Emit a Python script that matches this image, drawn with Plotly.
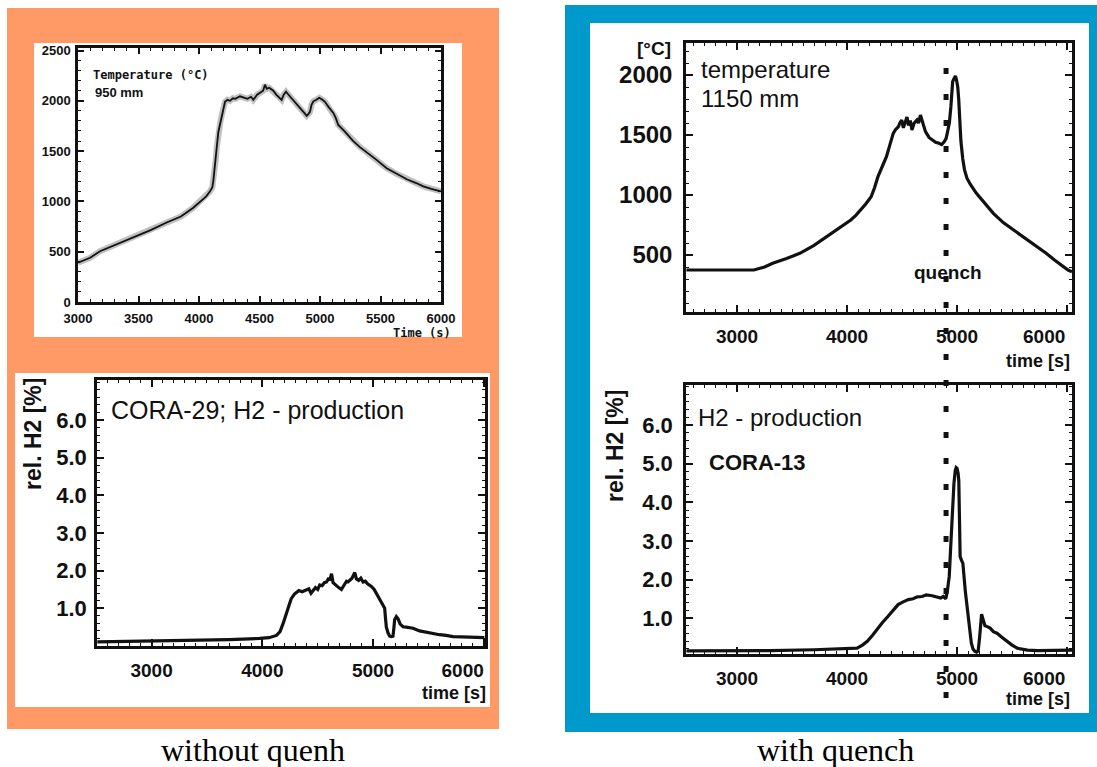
import plotly.graph_objects as go

W, H = 1097, 767

# ---------------- data ----------------
# CORA-29, temperature at 950 mm (no quench)
tl_time = [3000, 3100, 3182, 3300, 3457, 3600, 3733, 3850, 3950, 4008, 4060, 4091, 4110, 4118, 4125, 4132,
           4140, 4146, 4160, 4175, 4188, 4200, 4215, 4235, 4256, 4280, 4300, 4339, 4370, 4400, 4430, 4449,
           4480, 4510, 4530, 4545, 4560, 4580, 4614, 4640, 4660, 4683, 4700, 4719, 4740, 4760, 4779, 4800,
           4825, 4848, 4870, 4890, 4905, 4917, 4930, 4945, 4970, 4994, 5020, 5041, 5070, 5090, 5110, 5130,
           5151, 5200, 5275, 5330, 5386, 5470, 5551, 5640, 5717, 5790, 5854, 5920, 5992, 6000]
tl_temp = [390, 440, 505, 565, 640, 715, 790, 850, 935, 1000, 1050, 1100, 1140, 1200, 1270, 1330,
           1430, 1530, 1690, 1780, 1860, 1930, 1990, 2010, 2000, 2025, 2020, 2045, 2030, 2020, 2040, 2010,
           2060, 2080, 2100, 2160, 2120, 2130, 2100, 2060, 2040, 2010, 2060, 2090, 2060, 2030, 2005, 1980,
           1940, 1910, 1880, 1850, 1870, 1890, 1960, 1995, 2010, 2030, 2010, 1990, 1940, 1910, 1880, 1830,
           1760, 1700, 1600, 1540, 1490, 1410, 1330, 1270, 1220, 1185, 1150, 1125, 1100, 1100]

# CORA-29, relative H2 production
bl_time = [2510, 2800, 3100, 3436, 3700, 3977, 4060, 4128, 4160, 4188, 4210, 4233, 4260, 4290, 4308, 4330,
           4360, 4398, 4420, 4440, 4459, 4480, 4500, 4519, 4540, 4560, 4580, 4600, 4609, 4625, 4639, 4660,
           4690, 4714, 4740, 4760, 4774, 4790, 4810, 4835, 4850, 4870, 4890, 4910, 4930, 4950, 4970, 4985,
           5010, 5040, 5060, 5085, 5105, 5112, 5120, 5135, 5150, 5165, 5180, 5187, 5195, 5210, 5226, 5245,
           5271, 5300, 5361, 5420, 5480, 5541, 5600, 5660, 5722, 5800, 5880, 5977, 6005]
bl_h2 = [0.11, 0.12, 0.13, 0.15, 0.17, 0.20, 0.22, 0.28, 0.38, 0.60, 0.82, 1.04, 1.25, 1.38, 1.42, 1.47,
         1.44, 1.49, 1.52, 1.40, 1.47, 1.55, 1.50, 1.62, 1.60, 1.68, 1.70, 1.80, 1.74, 1.92, 1.68, 1.62,
         1.55, 1.50, 1.62, 1.72, 1.70, 1.75, 1.80, 1.95, 1.78, 1.74, 1.80, 1.70, 1.72, 1.65, 1.62, 1.58,
         1.50, 1.35, 1.22, 1.10, 1.00, 0.75, 0.50, 0.35, 0.26, 0.25, 0.26, 0.45, 0.70, 0.78, 0.72, 0.58,
         0.51, 0.50, 0.47, 0.40, 0.36, 0.34, 0.30, 0.28, 0.25, 0.24, 0.23, 0.22, 0.22]

# CORA-13, temperature at 1150 mm (with quench)
tr_time = [2540, 2800, 3000, 3154, 3250, 3324, 3450, 3571, 3700, 3818, 3930, 4034, 4080, 4127, 4170, 4219,
           4250, 4281, 4320, 4358, 4390, 4420, 4440, 4466, 4480, 4497, 4512, 4528, 4545, 4559, 4575, 4590,
           4610, 4636, 4650, 4667, 4690, 4713, 4745, 4775, 4805, 4836, 4860, 4883, 4900, 4914, 4930, 4944,
           4952, 4960, 4972, 4985, 4995, 5006, 5015, 5022, 5035, 5052, 5068, 5090, 5120, 5176, 5250, 5330,
           5420, 5515, 5620, 5731, 5810, 5886, 5950, 6009, 6045]
tr_temp = [375, 375, 375, 375, 400, 431, 470, 514, 580, 653, 720, 792, 830, 875, 925, 986,
           1060, 1153, 1240, 1319, 1420, 1514, 1545, 1569, 1600, 1625, 1560, 1600, 1650, 1580, 1620, 1542,
           1600, 1625, 1600, 1667, 1600, 1528, 1480, 1458, 1440, 1431, 1420, 1444, 1470, 1528, 1600, 1736,
           1850, 1944, 1970, 1992, 1960, 1903, 1800, 1653, 1450, 1300, 1210, 1140, 1090, 1014, 930, 847,
           770, 708, 640, 569, 515, 458, 415, 375, 360]

# CORA-13, relative H2 production
br_time = [2540, 2900, 3300, 3700, 4091, 4140, 4184, 4230, 4277, 4320, 4371, 4420, 4464, 4510, 4557, 4600,
           4640, 4681, 4720, 4774, 4810, 4851, 4875, 4898, 4913, 4929, 4945, 4960, 4972, 4984, 4992, 5000,
           5010, 5016, 5022, 5028, 5040, 5053, 5075, 5099, 5115, 5130, 5145, 5161, 5178, 5192, 5205, 5214,
           5223, 5238, 5254, 5275, 5301, 5330, 5363, 5410, 5456, 5500, 5549, 5640, 5735, 5850, 5983, 6045]
br_h2 = [0.15, 0.15, 0.16, 0.18, 0.22, 0.30, 0.40, 0.55, 0.74, 0.88, 1.04, 1.20, 1.35, 1.42, 1.48, 1.50,
         1.55, 1.56, 1.60, 1.58, 1.55, 1.52, 1.56, 1.50, 1.73, 2.08, 3.00, 3.97, 4.50, 4.83, 4.90, 4.88,
         4.75, 4.55, 3.80, 2.60, 2.50, 2.42, 1.70, 1.04, 0.65, 0.35, 0.20, 0.14, 0.12, 0.15, 0.50, 0.87,
         1.10, 0.95, 0.80, 0.78, 0.74, 0.65, 0.61, 0.50, 0.40, 0.30, 0.22, 0.17, 0.16, 0.16, 0.17, 0.17]

quench_time = 4900

tl_xticks = [3000, 3500, 4000, 4500, 5000, 5500, 6000]
tl_yticks = [0, 500, 1000, 1500, 2000, 2500]
h2_xticks = [3000, 4000, 5000, 6000]
h2_xticktext = ["3000", "4000", "5000", "6000"]
h2_yticks = [1.0, 2.0, 3.0, 4.0, 5.0, 6.0]
h2_yticktext = ["1.0", "2.0", "3.0", "4.0", "5.0", "6.0"]
tr_yticks = [500, 1000, 1500, 2000]

captions = ["without quenh", "with quench"]

# ---------------- helpers ----------------
def px(x):
    return x / W


def py(y):
    return 1 - y / H


ORANGE = "#FF9966"
BLUE = "#0099CC"
INK = "#111111"
NB = "\u00a0"

# the last tick label of the H2 plots sits left of its tick (right-aligned)
bl_labels = h2_xticktext[:-1] + [h2_xticktext[-1] + NB * 8]
# right-hand plots: last label is drawn as a right-anchored text at the tick (keeps it inside the page)
right_labels = h2_xticktext[:-1] + [""]
last_label = h2_xticktext[-1]

fig = go.Figure()

fig.add_trace(go.Scatter(x=tl_time, y=tl_temp, mode="lines", xaxis="x", yaxis="y",
                         line=dict(color="rgba(140,140,140,0.55)", width=6), hoverinfo="skip"))
fig.add_trace(go.Scatter(x=tl_time, y=tl_temp, mode="lines", xaxis="x", yaxis="y",
                         line=dict(color=INK, width=1.8)))
fig.add_trace(go.Scatter(x=bl_time, y=bl_h2, mode="lines", xaxis="x2", yaxis="y2",
                         line=dict(color=INK, width=3.2)))
fig.add_trace(go.Scatter(x=tr_time, y=tr_temp, mode="lines", xaxis="x3", yaxis="y3",
                         line=dict(color=INK, width=3.2)))
fig.add_trace(go.Scatter(x=br_time, y=br_h2, mode="lines", xaxis="x4", yaxis="y4",
                         line=dict(color=INK, width=3.2)))


def frame_axis(domain, rng, tickvals, ticktext, font_size, minor_dtick, ticklen=6, standoff=None,
               anchor=None, fam="Liberation Sans", bold=True, lw=2.5):
    d = dict(domain=domain, range=rng, tickmode="array", tickvals=tickvals, ticktext=ticktext,
             ticks="inside", ticklen=ticklen, tickwidth=1.6, tickcolor=INK,
             showline=True, linecolor=INK, linewidth=lw, mirror="allticks",
             showgrid=False, zeroline=False, anchor=anchor, automargin=False, fixedrange=True,
             ticklabeloverflow="allow",
             tickfont=dict(family=fam, size=font_size, color=INK, weight="bold" if bold else "normal"),
             minor=dict(dtick=minor_dtick, ticks="inside", ticklen=3, tickwidth=1.2, tickcolor=INK,
                        showgrid=False))
    if standoff is not None:
        d["ticklabelstandoff"] = standoff
    return d


# plot area pixel boxes
TL = (78, 441, 48, 302)
BL = (97, 485, 380, 646)
TR = (686, 1072, 43, 312)
BR = (686, 1072, 385, 654)

fig.update_layout(
    width=W, height=H, margin=dict(l=0, r=0, t=0, b=0, autoexpand=False),
    paper_bgcolor="white", plot_bgcolor="white", showlegend=False,
    xaxis=frame_axis([px(TL[0]), px(TL[1])], [3000, 6000], tl_xticks, [str(v) for v in tl_xticks], 13, 100,
                     anchor="y", standoff=3),
    yaxis=frame_axis([py(TL[3]), py(TL[2])], [0, 2525], tl_yticks, [str(v) for v in tl_yticks], 13, 100,
                     anchor="x", standoff=2),
    xaxis2=frame_axis([px(BL[0]), px(BL[1])], [2507, 6011], h2_xticks, bl_labels, 19, 100, ticklen=7,
                      anchor="y2", standoff=5),
    yaxis2=frame_axis([py(BL[3]), py(BL[2])], [0, 7.06], h2_yticks, h2_yticktext, 22, 0.2, ticklen=7,
                      anchor="x2", standoff=3),
    xaxis3=frame_axis([px(TR[0]), px(TR[1])], [2536, 6045], h2_xticks, right_labels, 19, 100, ticklen=7,
                      anchor="y3", standoff=5),
    yaxis3=frame_axis([py(TR[3]), py(TR[2])], [25, 2267], tr_yticks, [str(v) for v in tr_yticks], 24, 100,
                      ticklen=7, anchor="x3", standoff=6),
    xaxis4=frame_axis([px(BR[0]), px(BR[1])], [2536, 6045], h2_xticks, right_labels, 19, 100, ticklen=7,
                      anchor="y4", standoff=5),
    yaxis4=frame_axis([py(BR[3]), py(BR[2])], [0.07, 7.04], h2_yticks, h2_yticktext, 22, 0.2, ticklen=7,
                      anchor="x4", standoff=6),
)

# ---------------- background panels ----------------
shapes = [
    dict(type="rect", xref="paper", yref="paper", x0=px(7), x1=px(499), y0=py(729), y1=py(8),
         fillcolor=ORANGE, line=dict(width=0), layer="below"),
    dict(type="rect", xref="paper", yref="paper", x0=px(34), x1=px(462), y0=py(337), y1=py(43),
         fillcolor="white", line=dict(width=0), layer="below"),
    dict(type="rect", xref="paper", yref="paper", x0=px(15), x1=px(490), y0=py(707), y1=py(373),
         fillcolor="white", line=dict(width=0), layer="below"),
    dict(type="rect", xref="paper", yref="paper", x0=px(565), x1=px(1097), y0=py(732), y1=py(5),
         fillcolor=BLUE, line=dict(width=0), layer="below"),
    dict(type="rect", xref="paper", yref="paper", x0=px(590), x1=px(1089), y0=py(713), y1=py(23),
         fillcolor="white", line=dict(width=0), layer="below"),
    # quench marker, dotted, spanning both right-hand plots
    dict(type="line", xref="x3", yref="paper", x0=quench_time, x1=quench_time, y0=py(698), y1=py(66),
         line=dict(color=INK, width=5, dash="6px,20px"), layer="above"),
]
fig.update_layout(shapes=shapes)

# ---------------- texts ----------------
SANS = "Liberation Sans"
MONO = "DejaVu Sans Mono"
ann = []


def add(text, x, y, size, xanchor="left", yanchor="middle", family=SANS, bold=False, angle=0,
        color=INK, xref="paper"):
    ann.append(dict(text=text, x=px(x) if xref == "paper" else x, y=py(y), xref=xref, yref="paper",
                    xanchor=xanchor, yanchor=yanchor, showarrow=False, textangle=angle,
                    font=dict(family=family, size=size, color=color, weight="bold" if bold else "normal")))


# top-left
add("Temperature (°C)", 91, 75, 12, family=MONO, bold=True)
add("950 mm", 93, 93, 13, bold=True)
add("Time (s)", 453, 333, 12, xanchor="right", family=MONO, bold=True)
# bottom-left
add("CORA-29; H2 - production", 109, 410, 25)
add("rel. H2 [%]", 33, 434, 23, xanchor="center", bold=True, angle=-90)
add("time [s]", 488, 693, 18, xanchor="right", bold=True)
# top-right
add("[°C]", 673, 48, 19, xanchor="right", bold=True)
add("temperature", 699, 70, 24)
add("1150 mm", 699, 98, 24)
add("quench", 948, 272, 19, xanchor="center", bold=True)
add(last_label, h2_xticks[-1], 336, 19, xanchor="right", bold=True, xref="x3")
add("time [s]", 1072, 361, 18, xanchor="right", bold=True)
# bottom-right
add("H2 - production", 696, 417, 24)
add("CORA-13", 707, 462, 22, bold=True)
add("rel. H2 [%]", 615, 446, 23, xanchor="center", bold=True, angle=-90)
add(last_label, h2_xticks[-1], 678, 19, xanchor="right", bold=True, xref="x4")
add("time [s]", 1072, 699, 18, xanchor="right", bold=True)
# captions
add(captions[0], 253, 750, 32, xanchor="center", family="Liberation Serif", color="black")
add(captions[1], 835, 750, 32, xanchor="center", family="Liberation Serif", color="black")

fig.update_layout(annotations=ann)

fig.write_html("out.html", config={"displayModeBar": False},
               post_script="document.body.style.margin='0';document.body.style.overflow='hidden';")
